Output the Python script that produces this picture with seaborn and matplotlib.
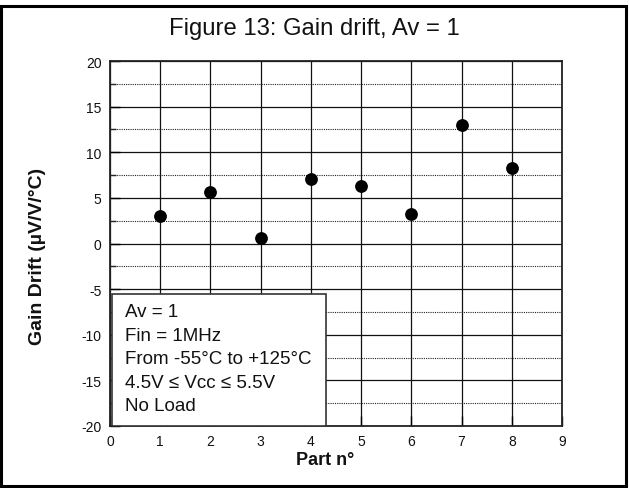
import matplotlib
matplotlib.use("Agg")
import matplotlib.pyplot as plt
import seaborn as sns
import pandas as pd
from matplotlib.patches import Rectangle
from matplotlib.ticker import MultipleLocator

# Gain drift per part
parts = [1, 2, 3, 4, 5, 6, 7, 8]
gain_drift = [3.0, 5.6, 0.55, 7.1, 6.3, 3.2, 12.95, 8.3]

x_ticks = [0, 1, 2, 3, 4, 5, 6, 7, 8, 9]
y_ticks = [-20, -15, -10, -5, 0, 5, 10, 15, 20]
conditions = ["Av = 1", "Fin = 1MHz", "From -55°C to +125°C",
              "4.5V \u2264 Vcc \u2264 5.5V", "No Load"]

sns.set_theme(style="white")
plt.rcParams["font.family"] = ["Liberation Sans", "DejaVu Sans"]

df = pd.DataFrame({"Part": parts, "Drift": gain_drift})

fig = plt.figure(figsize=(6.29, 4.89), dpi=100)
ax = fig.add_axes([110 / 629, 1 - 427 / 489, 452 / 629, 365 / 489])

# outer frame of the figure
fig.patches.append(Rectangle((0.002, 0.004), 0.994, 0.982, transform=fig.transFigure,
                             fill=False, edgecolor="black", linewidth=2.2))
fig.text(0.5, 1 - 29 / 489, "Figure 13: Gain drift, Av = 1", ha="center", va="center",
         fontsize=17.2, color="#111111")

sns.scatterplot(data=df, x="Part", y="Drift", ax=ax, color="black", s=85,
                edgecolor="black", linewidth=0, zorder=5)

ax.set_xlim(0, 9)
ax.set_ylim(-20, 20)
ax.set_xticks(x_ticks)
ax.set_yticks(y_ticks)
ax.set_xticklabels([str(v) for v in x_ticks])
ax.set_yticklabels([str(v) for v in y_ticks])
ax.yaxis.set_minor_locator(MultipleLocator(2.5))

ax.grid(True, which="major", axis="both", color="#111111", linewidth=0.9, linestyle="-")
ax.grid(True, which="minor", axis="y", color="#222222", linewidth=0.8, linestyle=(0, (1, 1)))
ax.set_axisbelow(True)

for side in ["left", "bottom", "right", "top"]:
    ax.spines[side].set_visible(True)
    ax.spines[side].set_color("#222222")
    ax.spines[side].set_linewidth(1.3)

ax.tick_params(axis="both", which="major", direction="in", length=7, width=1,
               labelsize=10, color="black", pad=6, labelcolor="#111111")
ax.tick_params(axis="y", which="minor", direction="in", length=4, width=1, left=True)
ax.tick_params(left=True, bottom=True)

ax.set_xlabel("Part n°", fontsize=13, fontweight="bold", color="#111111")
ax.set_ylabel("Gain Drift (µV/V/°C)", fontsize=14, fontweight="bold", color="#111111")
ax.xaxis.set_label_coords(0.476, -0.069)
ax.yaxis.set_label_coords(-0.142, 0.468)

# test conditions box
box = Rectangle((0.04, -20), 4.26, 14.5, transform=ax.transData, facecolor="white",
                edgecolor="#333333", linewidth=1.2, zorder=6)
ax.add_patch(box)
ys = [-7.5, -10.1, -12.6, -15.2, -17.7]
for t, yv in zip(conditions, ys):
    ax.text(0.3, yv, t, fontsize=13.5, va="center", ha="left", color="#111111", zorder=7)

fig.savefig("out.png", dpi=100)
